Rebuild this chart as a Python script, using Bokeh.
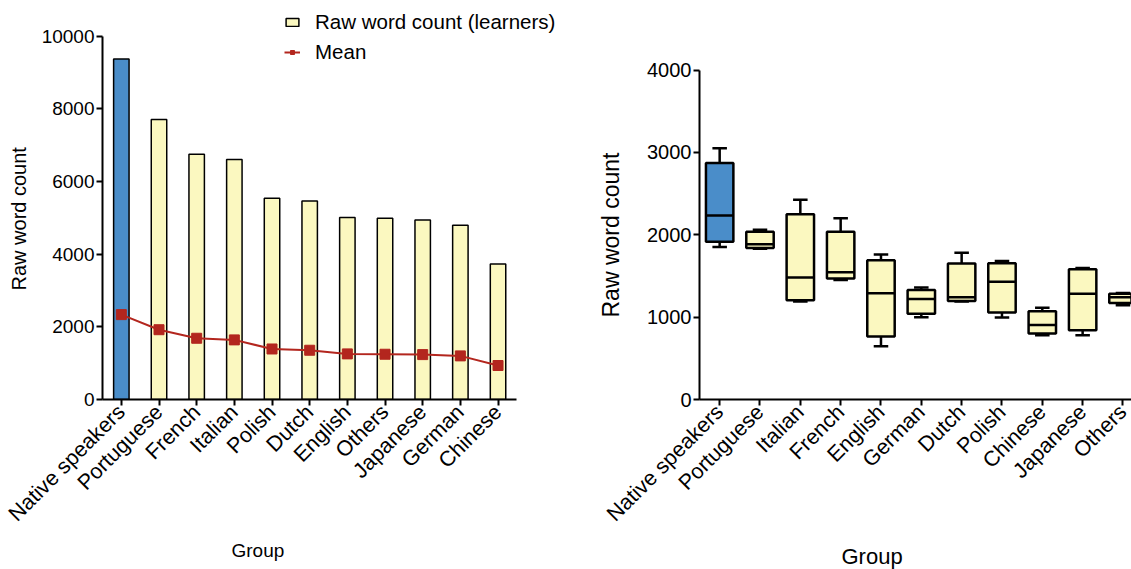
import numpy as np
from math import pi
from bokeh.plotting import figure
from bokeh.models import (Range1d, FixedTicker, Legend, LegendItem,
                          Title, ColumnDataSource)
from bokeh.layouts import row
from bokeh.embed import file_html
from bokeh.resources import INLINE

FONT = "Liberation Sans"
BLUE = "#4A8DC9"
YELLOW = "#FBF8C0"
RED = "#B3261E"

# ---- left chart data: raw word count per group (bars) and mean (line)
bar_groups = ["Native speakers", "Portuguese", "French", "Italian", "Polish", "Dutch",
              "English", "Others", "Japanese", "German", "Chinese"]
bar_counts = [9370, 7700, 6745, 6600, 5535, 5460, 5005, 4985, 4940, 4795, 3725]
bar_means = [2335, 1920, 1685, 1640, 1390, 1355, 1255, 1245, 1235, 1200, 935]
bar_yticks = [0, 2000, 4000, 6000, 8000, 10000]

# ---- right chart data: box plot per group
box_groups = ["Native speakers", "Portuguese", "Italian", "French", "English", "German",
              "Dutch", "Polish", "Chinese", "Japanese", "Others"]
box_min = [1850, 1830, 1190, 1450, 645, 1000, 1190, 995, 780, 780, 1145]
box_q1 = [1915, 1840, 1205, 1470, 765, 1040, 1195, 1055, 800, 840, 1170]
box_med = [2235, 1885, 1480, 1545, 1290, 1220, 1240, 1430, 905, 1285, 1240]
box_q3 = [2870, 2035, 2250, 2035, 1690, 1330, 1650, 1655, 1070, 1580, 1285]
box_max = [3050, 2062, 2425, 2200, 1760, 1360, 1780, 1680, 1113, 1595, 1292]
box_yticks = [0, 1000, 2000, 3000, 4000]


def style(p, tick_font, cat_font, groups):
    for ax in (p.xaxis[0], p.yaxis[0]):
        ax.axis_line_width = 2
        ax.axis_line_color = "black"
        ax.major_tick_line_width = 2
        ax.major_tick_line_color = "black"
        ax.major_tick_in = 0
        ax.major_tick_out = 6
        ax.minor_tick_line_color = None
        ax.major_label_text_font = FONT
        ax.major_label_text_color = "black"
    p.yaxis[0].major_label_text_font_size = tick_font
    p.xaxis[0].major_label_text_font_size = cat_font
    p.yaxis[0].major_label_standoff = 2
    p.xaxis[0].major_label_standoff = 3
    p.xaxis[0].major_label_orientation = pi / 4
    p.xaxis[0].ticker = FixedTicker(ticks=list(range(len(groups))))
    p.xaxis[0].major_label_overrides = {i: g for i, g in enumerate(groups)}
    p.xaxis[0].bounds = (-0.5, len(groups) - 0.5)
    p.grid.visible = False
    p.outline_line_color = None


def side_title(p, text, size, side, offset, standoff, align, valign="bottom"):
    t = Title(text=text, align=align, offset=offset, text_font=FONT,
              text_font_size=size, text_font_style="normal", text_color="black",
              standoff=standoff, vertical_align=valign)
    p.add_layout(t, side)


W1 = 578
W2 = 1131 - W1
FRAME_H = 399          # frames span page y 0 .. 399
BOTTOM = 212
H = FRAME_H + BOTTOM

# ================= left figure (frame 102 .. 578 px)
step1 = 37.67          # px per category
p1 = figure(width=W1, height=H, x_range=Range1d(-0.5, -0.5 + (W1 - 102) / step1),
            y_range=Range1d(0, bar_yticks[-1] * FRAME_H / 363.5),
            output_backend="svg", toolbar_location=None,
            min_border_left=102, min_border_right=0, min_border_top=0,
            min_border_bottom=BOTTOM)
xb = np.arange(len(bar_groups))
bar_colors = [BLUE if g == "Native speakers" else YELLOW for g in bar_groups]
src1 = ColumnDataSource(dict(x=xb, c=bar_counts, m=bar_means, col=bar_colors))
bars = p1.vbar(x="x", top="c", width=0.41, source=src1, fill_color="col",
               line_color="black", line_width=1.5)
mline = p1.line(x="x", y="m", source=src1, line_color=RED, line_width=2)
mpts = p1.scatter(x="x", y="m", source=src1, marker="square", size=10,
                  fill_color=RED, line_color=RED)
style(p1, "19px", "21.5px", bar_groups)
p1.yaxis[0].ticker = FixedTicker(ticks=bar_yticks)
p1.yaxis[0].bounds = (bar_yticks[0], bar_yticks[-1])

legend = Legend(items=[LegendItem(label="Raw word count (learners)", renderers=[bars], index=1),
                       LegendItem(label="Mean", renderers=[mline, mpts])],
                location=(182, 335), orientation="vertical", glyph_width=16,
                glyph_height=10, label_standoff=15, label_height=24, spacing=6,
                padding=0, margin=0, border_line_color=None, background_fill_alpha=0,
                label_text_font=FONT, label_text_font_size="20.5px",
                label_text_color="black")
p1.add_layout(legend, "center")
side_title(p1, "Raw word count", "20px", "left", 109, 14, "left", "top")
side_title(p1, "Group", "19px", "below", 129, 1, "left")

# ================= right figure (frame 699 .. 1131 px)
step2 = 40.33
p2 = figure(width=W2, height=H, x_range=Range1d(-0.5, -0.5 + (1131 - 699) / step2),
            y_range=Range1d(0, box_yticks[-1] * FRAME_H / 329.5),
            output_backend="svg", toolbar_location=None,
            min_border_left=699 - W1, min_border_right=0, min_border_top=0,
            min_border_bottom=BOTTOM)
x = np.arange(len(box_groups))
box_colors = [BLUE if g == "Native speakers" else YELLOW for g in box_groups]
src2 = ColumnDataSource(dict(x=x, lo=box_min, q1=box_q1, med=box_med, q3=box_q3,
                             hi=box_max, col=box_colors))
bw = 0.68
cw = 0.18
p2.segment(x0="x", y0="q3", x1="x", y1="hi", source=src2, line_color="black", line_width=2.5)
p2.segment(x0="x", y0="q1", x1="x", y1="lo", source=src2, line_color="black", line_width=2.5)
p2.segment(x0=x - cw, y0=box_max, x1=x + cw, y1=box_max, line_color="black", line_width=2.5)
p2.segment(x0=x - cw, y0=box_min, x1=x + cw, y1=box_min, line_color="black", line_width=2.5)
p2.vbar(x="x", bottom="q1", top="q3", width=bw, source=src2, fill_color="col",
        line_color="black", line_width=2.5)
p2.segment(x0=x - bw / 2, y0=box_med, x1=x + bw / 2, y1=box_med, line_color="black",
           line_width=2.5)
style(p2, "20px", "21.5px", box_groups)
p2.yaxis[0].ticker = FixedTicker(ticks=box_yticks)
p2.yaxis[0].bounds = (box_yticks[0], box_yticks[-1])
p2.xaxis[0].bounds = (-0.5, 20)
side_title(p2, "Raw word count", "23px", "left", 82, 37, "left", "top")
side_title(p2, "Group", "22px", "below", 142, 9, "left")

layout = row(p1, p2)
open("out.html", "w").write(file_html(layout, INLINE))
